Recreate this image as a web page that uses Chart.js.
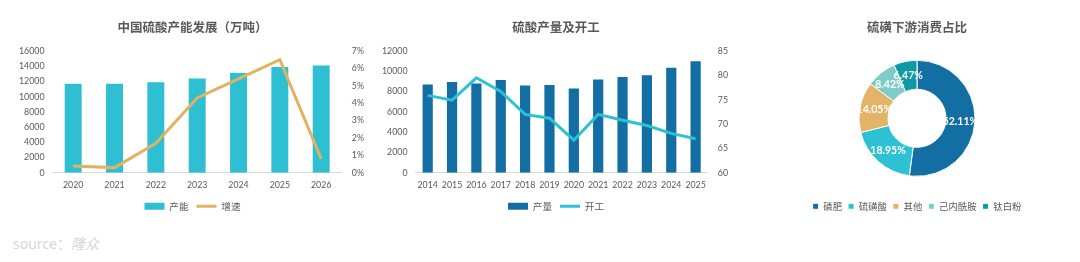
<!DOCTYPE html>
<html>
<head>
<meta charset="utf-8">
<script src="https://cdn.jsdelivr.net/npm/chart.js@4/dist/chart.umd.min.js"></script>
<style>
  body { margin: 0; background: #fff; width: 1080px; height: 262px; overflow: hidden; position: relative; }
  .box { position: absolute; top: 0; height: 227px; }
  .source { position: absolute; left: 13px; top: 233px; font: 400 14px "Noto Sans", "Noto Sans CJK SC", sans-serif; color: #d6d6d6; }
  .source i { font-family: "Noto Sans CJK SC", sans-serif; }
</style>
</head>
<body>
<div class="box" style="left:0;width:374px"><canvas id="capChart"></canvas></div>
<div class="box" style="left:372px;width:370px"><canvas id="outChart"></canvas></div>
<div class="box" style="left:760px;width:314px"><canvas id="useChart"></canvas></div>
<div class="source">source：<i>隆众</i></div>
<script>
// chart 1 - 中国硫酸产能发展
const capYears = ["2020", "2021", "2022", "2023", "2024", "2025", "2026"];
const capacity = [11700, 11700, 11900, 12400, 13100, 13900, 14100];
const capGrowth = [0.4, 0.3, 1.7, 4.3, 5.4, 6.5, 0.8];

// chart 2 - 硫酸产量及开工
const outYears = ["2014", "2015", "2016", "2017", "2018", "2019", "2020", "2021", "2022", "2023", "2024", "2025"];
const output = [8700, 8950, 8800, 9150, 8600, 8650, 8300, 9200, 9450, 9600, 10350, 11000];
const runRate = [75.9, 74.9, 79.5, 76.7, 72.0, 71.2, 66.7, 72.0, 70.8, 69.7, 68.1, 67.0];

// chart 3 - 硫磺下游消费占比
const useLabels = ["磷肥", "硫磺酸", "其他", "己内酰胺", "钛白粉"];
const useShare = [52.11, 18.95, 14.05, 8.42, 6.47];

const gray = "#595959";
const numFont = { family: "Lato, 'Noto Sans CJK SC', sans-serif", size: 8.8 };
const cnFont = { family: "'Noto Sans CJK SC', sans-serif", size: 9.6 };
const titleFont = { family: "'Noto Sans CJK SC', sans-serif", size: 12.5, weight: "bold" };

Chart.defaults.color = gray;
Chart.defaults.animation = false;

function comboOptions(title, leftMax, leftStep, rightMin, rightMax, rightStep, rightFmt, pad) {
  return {
    responsive: true,
    maintainAspectRatio: false,
    layout: { padding: pad },
    plugins: {
      title: { display: true, text: title, color: gray, font: titleFont, padding: { top: 0, bottom: 16 } },
      legend: {
        position: "bottom",
        reverse: true,
        labels: { usePointStyle: true, pointStyleWidth: 20, boxHeight: 7, padding: 8, color: gray, font: cnFont }
      },
      tooltip: { enabled: false }
    },
    scales: {
      x: {
        grid: { display: false, drawTicks: false },
        border: { display: true, color: "#d9d9d9" },
        ticks: { color: gray, font: numFont, padding: 7, maxRotation: 0, autoSkip: false },
        afterFit: s => { s.height -= 4; }
      },
      y: {
        position: "left",
        min: 0, max: leftMax,
        grid: { display: false, drawTicks: false },
        border: { display: false },
        ticks: { stepSize: leftStep, color: gray, font: numFont, padding: 8, callback: v => v }
      },
      y1: {
        position: "right",
        min: rightMin, max: rightMax,
        grid: { display: false, drawTicks: false },
        border: { display: false },
        ticks: { stepSize: rightStep, color: gray, font: numFont, padding: 10, callback: rightFmt }
      }
    }
  };
}

new Chart(document.getElementById("capChart"), {
  type: "bar",
  data: {
    labels: capYears,
    datasets: [
      { type: "line", label: "增速", data: capGrowth, yAxisID: "y1", borderColor: "#E2B263", backgroundColor: "#E2B263",
        borderWidth: 3, pointRadius: 0, tension: 0, pointStyle: "line", order: 0 },
      { label: "产能", data: capacity, yAxisID: "y", backgroundColor: "#2EBFD2", borderWidth: 0,
        barPercentage: 0.82, categoryPercentage: 0.5, pointStyle: "rect", order: 1 }
    ]
  },
  options: comboOptions("中国硫酸产能发展（万吨）", 16000, 2000, 0, 7, 1, v => v + "%", { top: 20, left: 11, right: 0, bottom: 6 })
});

new Chart(document.getElementById("outChart"), {
  type: "bar",
  data: {
    labels: outYears,
    datasets: [
      { type: "line", label: "开工", data: runRate, yAxisID: "y1", borderColor: "#2EC0D3", backgroundColor: "#2EC0D3",
        borderWidth: 3, pointRadius: 0, tension: 0, pointStyle: "line", order: 0 },
      { label: "产量", data: output, yAxisID: "y", backgroundColor: "#136FA3", borderWidth: 0,
        barPercentage: 0.84, categoryPercentage: 0.5, pointStyle: "rect", order: 1 }
    ]
  },
  options: comboOptions("硫酸产量及开工", 12000, 2000, 60, 85, 5, v => v, { top: 20, left: 2, right: 4, bottom: 6 })
});

// white percentage labels on the ring
const ringLabels = {
  id: "ringLabels",
  afterDatasetsDraw(chart) {
    const ctx = chart.ctx;
    const meta = chart.getDatasetMeta(0);
    ctx.save();
    ctx.fillStyle = "#fff";
    ctx.font = "bold 10.5px Lato, sans-serif";
    ctx.textAlign = "center";
    ctx.textBaseline = "middle";
    meta.data.forEach((arc, i) => {
      const p = arc.tooltipPosition();
      ctx.fillText(useShare[i].toFixed(2) + "%", p.x, p.y);
    });
    ctx.restore();
  }
};

new Chart(document.getElementById("useChart"), {
  type: "doughnut",
  data: {
    labels: useLabels,
    datasets: [{
      data: useShare,
      backgroundColor: ["#136FA3", "#2EC0D3", "#E3B368", "#7ECCC8", "#0E9AA5"],
      borderColor: "#fff",
      borderWidth: 1,
      radius: 58
    }]
  },
  options: {
    responsive: true,
    maintainAspectRatio: false,
    cutout: "50%",
    layout: { padding: { top: 20, bottom: 6 } },
    plugins: {
      title: { display: true, text: "硫磺下游消费占比", color: gray, font: titleFont, padding: { top: 0, bottom: 6 } },
      legend: {
        position: "bottom",
        labels: { usePointStyle: true, pointStyle: "rect", pointStyleWidth: 6, boxHeight: 6, padding: 6, color: gray, font: { family: cnFont.family, size: 9.4 } }
      },
      tooltip: { enabled: false }
    }
  },
  plugins: [ringLabels]
});
</script>
</body>
</html>
